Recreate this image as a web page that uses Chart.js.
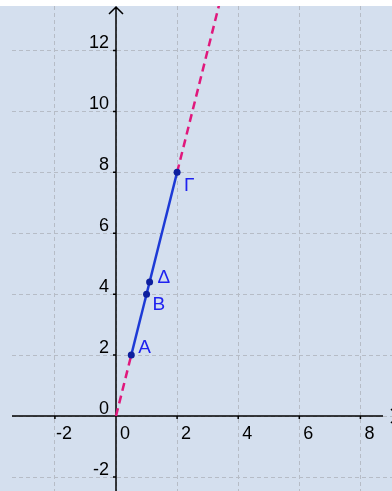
<!DOCTYPE html>
<html lang="el">
<head>
    <meta charset="UTF-8">
    <title>Ευθεία y = 4x</title>
    <script src="https://cdn.jsdelivr.net/npm/chart.js"></script>
    <style>
        body { margin: 0; background: #fff; }
    </style>
</head>
<body>
    <canvas id="chart_line" width="392" height="491"></canvas>

    <script>
        // points on the line
        const pointNames = ['Α', 'Β', 'Δ', 'Γ'];
        const pointX = [0.5, 1, 1.1, 2];
        const pointY = [2, 4, 4.4, 8];
        // label offsets (px) from each point
        const labelDx = [7, 6, 8, 7];
        const labelDy = [-7, 11, -4, 13];

        // solid segment Α -> Γ
        const segX = [0.5, 2];
        const segY = [2, 8];

        // dashed parts of the line, outside the segment (null = gap)
        const rayX = [0, 0.5, null, 2, 3.6];
        const rayY = [0, 2, null, 8, 14.4];

        const xTicks = [-2, 0, 2, 4, 6, 8];
        const yTicks = [-2, 0, 2, 4, 6, 8, 10, 12];

        const xRange = [-3.797, 9.034];
        const yRange = [-2.463, 13.46];

        const TICK_FONT = '18px "Liberation Sans", Arial, sans-serif';
        const NAME_FONT = '19px "Liberation Sans", Arial, sans-serif';
        const GRID = '#b6bcc6';

        const toXY = (xs, ys) => xs.map((x, i) => ({ x: x, y: ys[i] }));

        // background, horizontal grid, axes with arrows, tick labels, point names
        const axesPlugin = {
            id: 'axes',
            beforeDraw(chart) {
                const { ctx, chartArea: a, scales } = chart;
                ctx.save();
                ctx.fillStyle = '#d4dfee';
                ctx.fillRect(a.left, a.top, a.right - a.left, a.bottom - a.top);
                ctx.strokeStyle = GRID;
                ctx.lineWidth = 1;
                ctx.setLineDash([4, 3]);
                ctx.beginPath();
                yTicks.forEach(v => {
                    const py = Math.round(scales.y.getPixelForValue(v)) + 0.5;
                    ctx.moveTo(a.left + 12, py);
                    ctx.lineTo(a.right, py);
                });
                ctx.stroke();
                ctx.restore();
            },
            beforeDatasetsDraw(chart) {
                const { ctx, chartArea: a, scales } = chart;
                const x0 = scales.x.getPixelForValue(0);
                const y0 = scales.y.getPixelForValue(0);
                ctx.save();
                ctx.strokeStyle = '#000';
                ctx.lineWidth = 1.5;
                ctx.beginPath();
                // x axis
                ctx.moveTo(a.left + 12, y0);
                ctx.lineTo(a.right - 9, y0);
                ctx.moveTo(a.right - 1, y0 - 7);
                ctx.lineTo(a.right + 6, y0);
                ctx.lineTo(a.right - 1, y0 + 7);
                // y axis
                ctx.moveTo(x0, a.bottom);
                ctx.lineTo(x0, a.top + 1);
                ctx.moveTo(x0 - 7, a.top + 8);
                ctx.lineTo(x0, a.top + 1);
                ctx.lineTo(x0 + 7, a.top + 8);
                // small tick marks
                xTicks.forEach(v => {
                    if (v === 0) return;
                    const px = scales.x.getPixelForValue(v);
                    ctx.moveTo(px, y0);
                    ctx.lineTo(px, y0 + 3);
                });
                yTicks.forEach(v => {
                    if (v === 0) return;
                    const py = scales.y.getPixelForValue(v);
                    ctx.moveTo(x0, py);
                    ctx.lineTo(x0 - 3, py);
                });
                ctx.stroke();

                ctx.fillStyle = '#000';
                ctx.font = TICK_FONT;
                ctx.textBaseline = 'alphabetic';
                ctx.textAlign = 'center';
                xTicks.forEach(v => {
                    const px = scales.x.getPixelForValue(v);
                    ctx.fillText(String(v), px + 9, y0 + 23);
                });
                ctx.textAlign = 'right';
                yTicks.forEach(v => {
                    const py = scales.y.getPixelForValue(v);
                    ctx.fillText(String(v), x0 - 7, py - 2);
                });
                ctx.restore();
            },
            afterDatasetsDraw(chart) {
                const { ctx, scales } = chart;
                ctx.save();
                ctx.fillStyle = '#1f22f0';
                ctx.font = NAME_FONT;
                ctx.textAlign = 'left';
                ctx.textBaseline = 'middle';
                pointNames.forEach((name, i) => {
                    const px = scales.x.getPixelForValue(pointX[i]);
                    const py = scales.y.getPixelForValue(pointY[i]);
                    ctx.fillText(name, px + labelDx[i], py + labelDy[i]);
                });
                ctx.restore();
            }
        };

        const ctx = document.getElementById('chart_line').getContext('2d');
        new Chart(ctx, {
            type: 'scatter',
            data: {
                datasets: [
                    {
                        label: 'points',
                        data: toXY(pointX, pointY),
                        backgroundColor: '#0d1f9e',
                        borderColor: '#0d1f9e',
                        pointRadius: 3.5,
                        borderWidth: 0,
                        order: 0
                    },
                    {
                        label: 'segment',
                        data: toXY(segX, segY),
                        showLine: true,
                        borderColor: '#1d3ad6',
                        borderWidth: 2.5,
                        pointRadius: 0,
                        order: 1
                    },
                    {
                        label: 'ray',
                        data: toXY(rayX, rayY),
                        showLine: true,
                        spanGaps: false,
                        borderColor: '#e0187c',
                        borderWidth: 2.5,
                        borderDash: [8, 5],
                        pointRadius: 0,
                        order: 2
                    }
                ]
            },
            options: {
                responsive: false,
                animation: false,
                layout: { autoPadding: false, padding: { top: 6, left: 0, right: 0, bottom: 0 } },
                plugins: {
                    legend: { display: false },
                    tooltip: { enabled: false }
                },
                scales: {
                    x: {
                        type: 'linear',
                        min: xRange[0],
                        max: xRange[1],
                        afterBuildTicks: axis => { axis.ticks = xTicks.map(v => ({ value: v })); },
                        ticks: { display: false },
                        grid: { color: GRID, lineWidth: 1, drawTicks: false, tickLength: 0 },
                        border: { display: false, dash: [4, 3] }
                    },
                    y: {
                        type: 'linear',
                        min: yRange[0],
                        max: yRange[1],
                        ticks: { display: false },
                        grid: { display: false, drawTicks: false, tickLength: 0 },
                        border: { display: false }
                    }
                }
            },
            plugins: [axesPlugin]
        });
    </script>
</body>
</html>
